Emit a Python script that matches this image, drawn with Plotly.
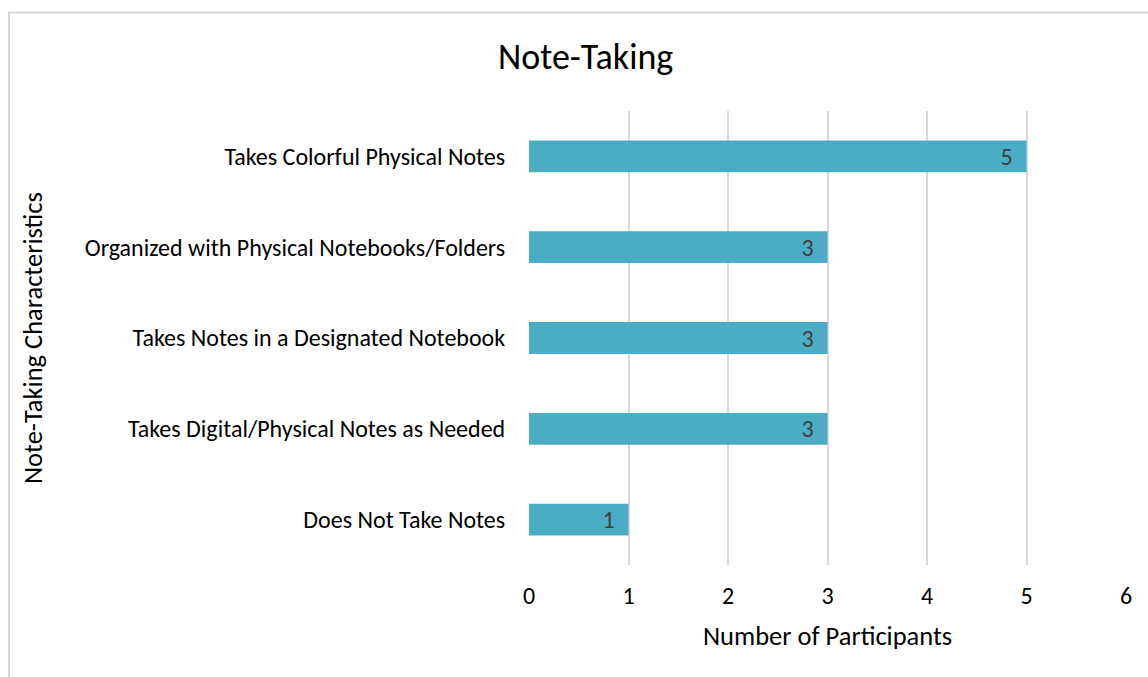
import plotly.graph_objects as go

categories = [
    "Takes Colorful Physical Notes",
    "Organized with Physical Notebooks/Folders",
    "Takes Notes in a Designated Notebook",
    "Takes Digital/Physical Notes as Needed",
    "Does Not Take Notes",
]
participants = [5, 3, 3, 3, 1]
x_ticks = [0, 1, 2, 3, 4, 5, 6]

FONT = "Carlito, Calibri, Lato, sans-serif"
BAR = "#4BACC6"
GRID = "#d9d9d9"
TICK_SIZE = 24

W, H = 1148, 677
L, R, T, B = 529, 1126, 111, 565
pw, ph = R - L, B - T

def px_x(x):
    return (x - L) / pw

def px_y(y):
    return (B - y) / ph

fig = go.Figure(go.Bar(
    x=participants,
    y=categories,
    orientation="h",
    marker=dict(color=BAR, line=dict(width=0)),
    width=0.35,
    text=[f"{v}  " for v in participants],
    textposition="inside",
    insidetextanchor="end",
    textangle=0,
    constraintext="none",
    textfont=dict(family=FONT, size=TICK_SIZE, color="#404040"),
    cliponaxis=False,
))

fig.update_layout(
    width=W, height=H,
    margin=dict(l=L, r=W - R, t=T, b=H - B, pad=0),
    paper_bgcolor="white",
    plot_bgcolor="white",
    showlegend=False,
    font=dict(family=FONT, size=TICK_SIZE, color="black"),
    bargap=0.65,
)
fig.update_xaxes(
    range=[0, 6],
    tickvals=x_ticks,
    showgrid=True, gridcolor=GRID, gridwidth=2,
    zeroline=False, showline=False,
    ticks="outside", tickcolor="white", ticklen=9,
    tickfont=dict(family=FONT, size=TICK_SIZE, color="black"),
)
fig.update_yaxes(
    categoryorder="array", categoryarray=categories,
    autorange="reversed",
    showgrid=False, zeroline=False, showline=False,
    ticks="outside", tickcolor="white", ticklen=18,
    tickfont=dict(family=FONT, size=TICK_SIZE, color="black"),
)

# outer chart frame
fig.add_shape(type="rect", xref="paper", yref="paper",
              x0=px_x(9), x1=px_x(1160), y0=px_y(690), y1=px_y(12.5),
              line=dict(color=GRID, width=2), fillcolor="rgba(0,0,0,0)", layer="below")

fig.add_annotation(text="Note-Taking", xref="paper", yref="paper",
                   x=px_x(585.5), y=px_y(57), showarrow=False,
                   xanchor="center", yanchor="middle",
                   font=dict(family=FONT, size=36, color="black"))
fig.add_annotation(text="Number of Participants", xref="paper", yref="paper",
                   x=px_x(827), y=px_y(636), showarrow=False,
                   xanchor="center", yanchor="middle",
                   font=dict(family=FONT, size=26.5, color="black"))
fig.add_annotation(text="Note-Taking Characteristics", xref="paper", yref="paper",
                   x=px_x(33), y=px_y(338), showarrow=False, textangle=-90,
                   xanchor="center", yanchor="middle",
                   font=dict(family=FONT, size=26.5, color="black"))

fig.write_html("out.html")
